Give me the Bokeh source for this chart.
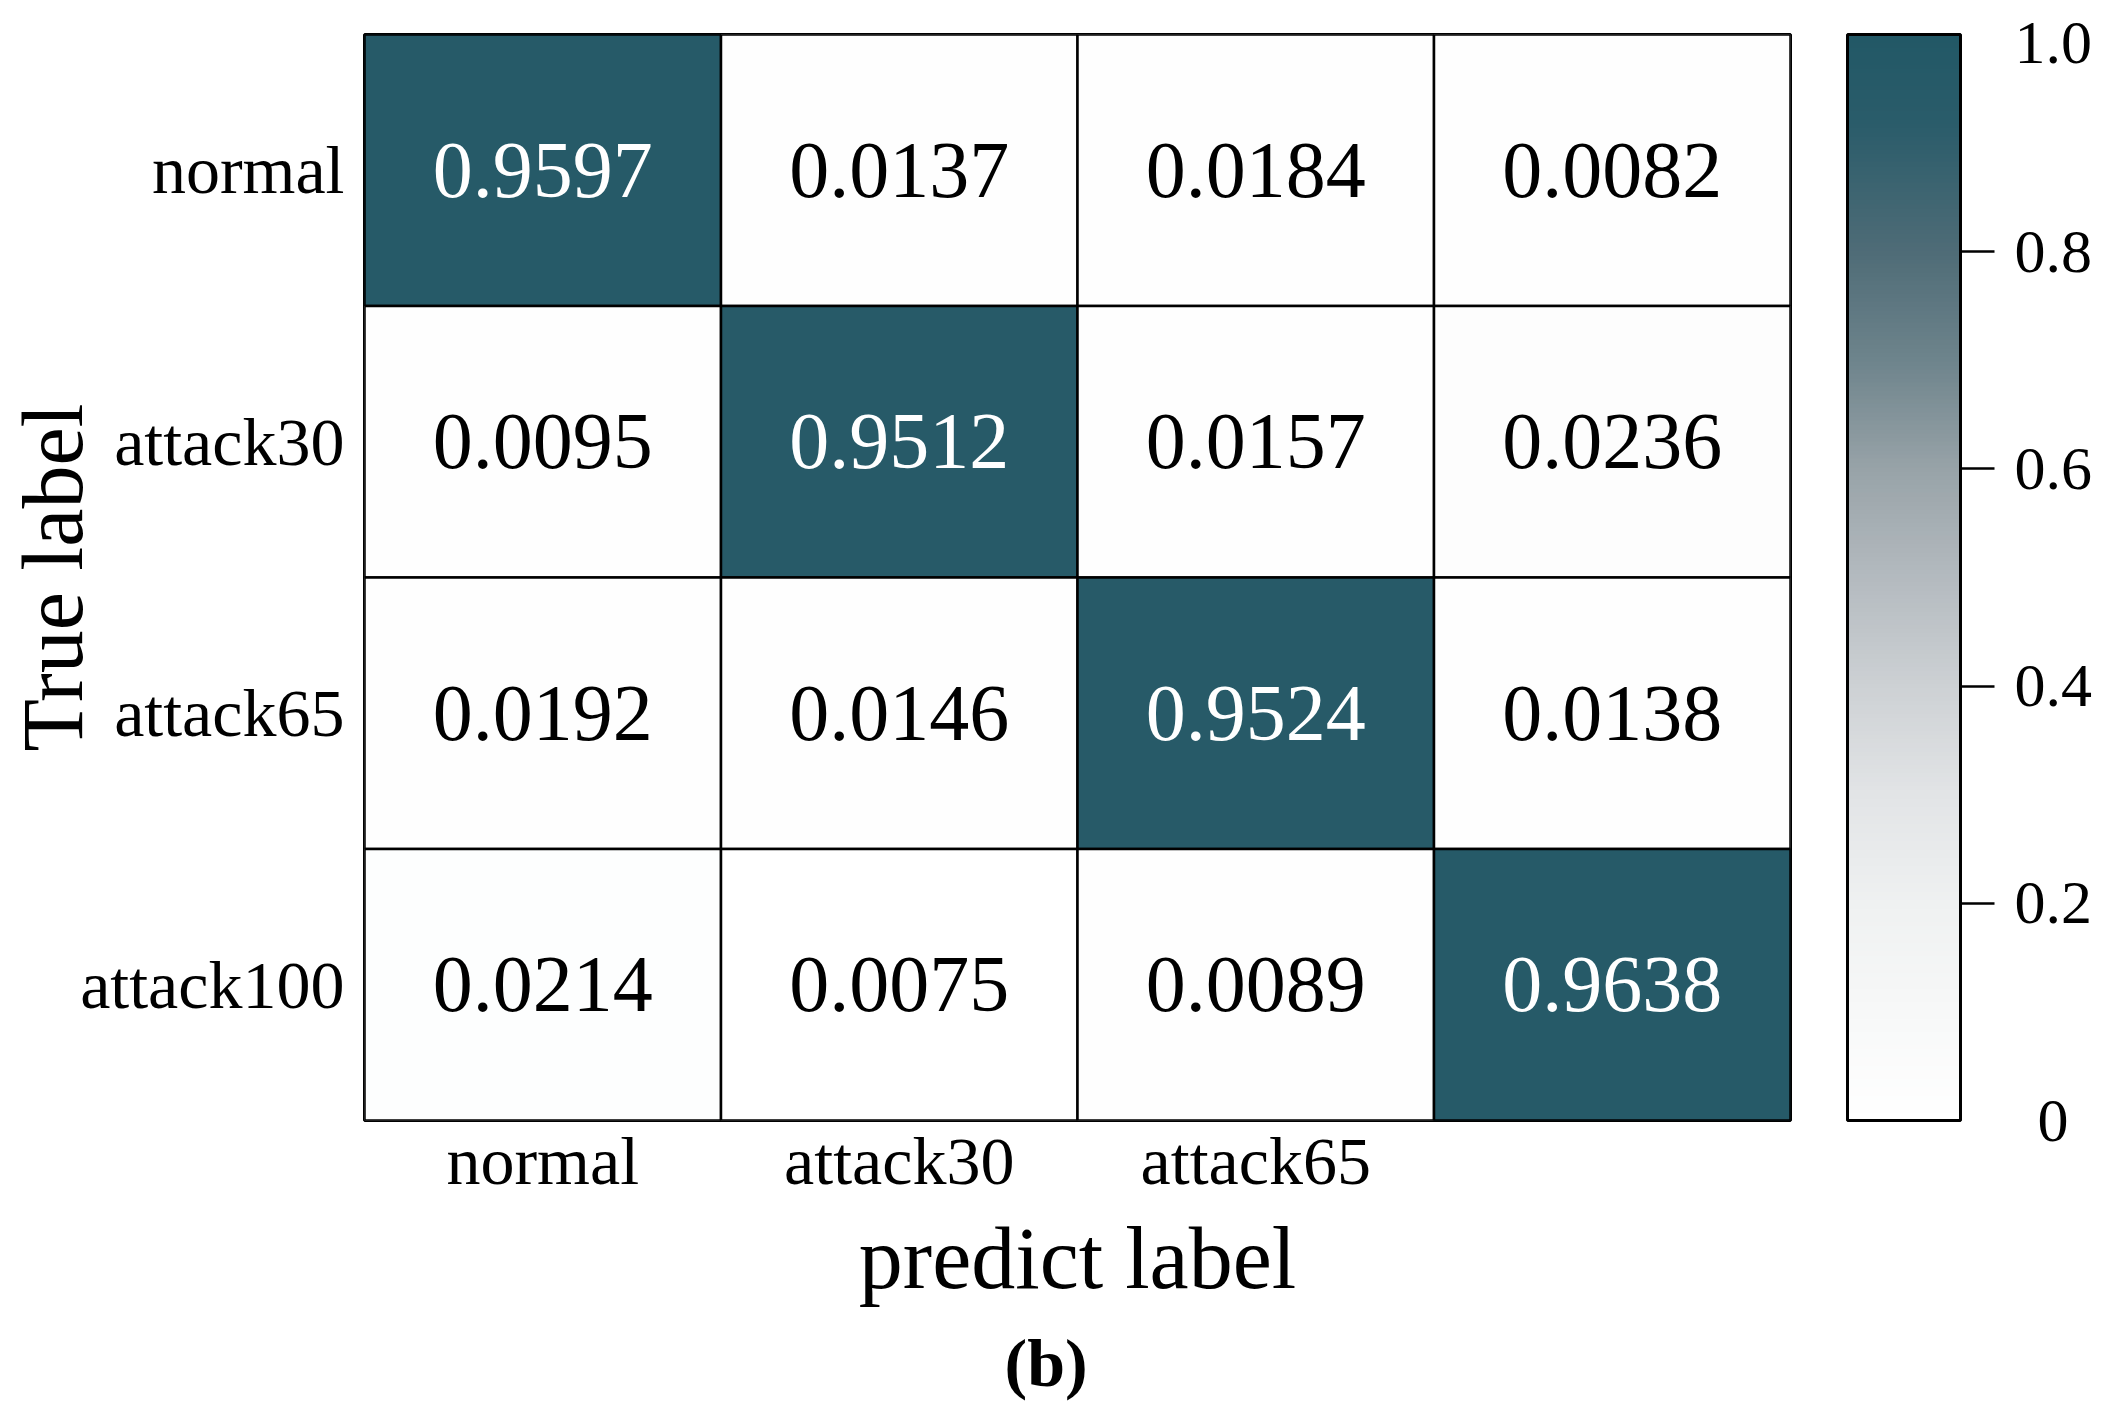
from bokeh.plotting import figure
from bokeh.models import (ColumnDataSource, LinearColorMapper, ColorBar, FixedTicker,
                          Title, CustomJSTickFormatter)
from bokeh.transform import transform
from bokeh.core.properties import value
from bokeh.embed import file_html
from bokeh.resources import INLINE

# ---- data ----
true_labels = ["normal", "attack30", "attack65", "attack100"]
pred_labels = ["normal", "attack30", "attack65", "attack100"]
x_tick_shown = ["normal", "attack30", "attack65"]
row_normal = [0.9597, 0.0137, 0.0184, 0.0082]
row_attack30 = [0.0095, 0.9512, 0.0157, 0.0236]
row_attack65 = [0.0192, 0.0146, 0.9524, 0.0138]
row_attack100 = [0.0214, 0.0075, 0.0089, 0.9638]
cbar_ticks = [0.2, 0.4, 0.6, 0.8]
cbar_low_tick = [0.0]
cbar_low_label = ["0"]
cbar_high_tick = [1.0]
cbar_high_label = ["1.0"]

FONT = "Liberation Serif"

# ---- colour map (white -> grey -> teal) ----
stops = [(0.0, "#ffffff"), (0.1, "#f7f8f8"), (0.2, "#eff1f1"), (0.3, "#e2e4e6"),
         (0.4, "#cdd1d4"), (0.5, "#b4babf"), (0.6, "#98a3a8"), (0.7, "#6e848c"),
         (0.8, "#4f6c77"), (0.92, "#2a5c6a"), (1.0, "#225866")]


def _rgb(h):
    return tuple(int(h[i:i + 2], 16) for i in (1, 3, 5))


palette = []
for i in range(256):
    t = i / 255
    for (a, ca), (b, cb) in zip(stops[:-1], stops[1:]):
        if a <= t <= b:
            f = (t - a) / (b - a)
            r = [round(x + (y - x) * f) for x, y in zip(_rgb(ca), _rgb(cb))]
            palette.append("#%02x%02x%02x" % tuple(r))
            break

mapper = LinearColorMapper(palette=palette, low=0, high=1)

rows = [row_normal, row_attack30, row_attack65, row_attack100]
xs, ys, vals, labels, tcolors = [], [], [], [], []
for tl, row in zip(true_labels, rows):
    for pl, v in zip(pred_labels, row):
        xs.append(pl)
        ys.append(tl)
        vals.append(v)
        labels.append("%.4f" % v)
        tcolors.append("white" if v > 0.5 else "black")

src = ColumnDataSource(dict(pred=xs, true=ys, val=vals, label=labels, tcolor=tcolors))

p = figure(x_range=pred_labels, y_range=list(reversed(true_labels)),
           frame_width=1426, frame_height=1086,
           min_border_left=364, min_border_right=305,
           min_border_top=34, min_border_bottom=280,
           output_backend="svg", toolbar_location=None,
           x_axis_label="predict label", y_axis_label="True label")
p.background_fill_color = "white"
p.border_fill_color = "white"
p.outline_line_color = "black"
p.outline_line_width = 3
p.grid.visible = False

p.rect(x="pred", y="true", width=1, height=1, source=src,
       fill_color=transform("val", mapper), line_color="black", line_width=2.5)
p.text(x="pred", y="true", text="label", source=src,
       text_font=value(FONT), text_font_size="80px",
       text_align="center", text_baseline="middle", text_color="tcolor")

for ax in (p.xaxis[0], p.yaxis[0]):
    ax.axis_line_color = None
    ax.major_tick_line_color = None
    ax.minor_tick_line_color = None
    ax.major_label_text_font = FONT
    ax.major_label_text_font_size = "68px"
    ax.major_label_text_color = "black"
    ax.axis_label_text_font = FONT
    ax.axis_label_text_font_size = "86px"
    ax.axis_label_text_font_style = "normal"
    ax.axis_label_text_color = "black"

p.xaxis[0].axis_label_text_font_size = "88px"
p.xaxis[0].major_label_standoff = -4
p.xaxis[0].axis_label_standoff = 8
p.xaxis[0].formatter = CustomJSTickFormatter(
    args=dict(shown=x_tick_shown),
    code="return shown.includes(tick) ? tick : '';")
p.yaxis[0].major_label_standoff = 14
p.yaxis[0].axis_label_standoff = -24

common = dict(color_mapper=mapper, width=113, height=1086, padding=0, margin=0,
              major_tick_out=34, major_tick_in=0, label_standoff=20,
              major_label_text_font=FONT, major_label_text_font_size="62px",
              major_label_text_color="black", background_fill_alpha=0,
              border_line_color=None)
cb = ColorBar(ticker=FixedTicker(ticks=cbar_ticks), location=(1483, 0),
              bar_line_color="black", bar_line_width=3,
              major_tick_line_color="black", major_tick_line_width=2.5, **common)
cb_low = ColorBar(ticker=FixedTicker(ticks=cbar_low_tick), location=(1506, 0),
                  scale_alpha=0, bar_line_color=None, major_tick_line_color=None,
                  major_label_overrides=dict(zip(cbar_low_tick, cbar_low_label)), **common)
cb_high = ColorBar(ticker=FixedTicker(ticks=cbar_high_tick), location=(1483, -8),
                   scale_alpha=0, bar_line_color=None, major_tick_line_color=None,
                   major_label_overrides=dict(zip(cbar_high_tick, cbar_high_label)), **common)
p.add_layout(cb, "center")
p.add_layout(cb_low, "center")
p.add_layout(cb_high, "center")

p.add_layout(Title(text="(b)", align="left", text_font=FONT, text_font_size="68px",
                   text_font_style="bold", text_color="black", standoff=26, offset=640),
             "below")

open("out.html", "w").write(file_html(p, INLINE))
